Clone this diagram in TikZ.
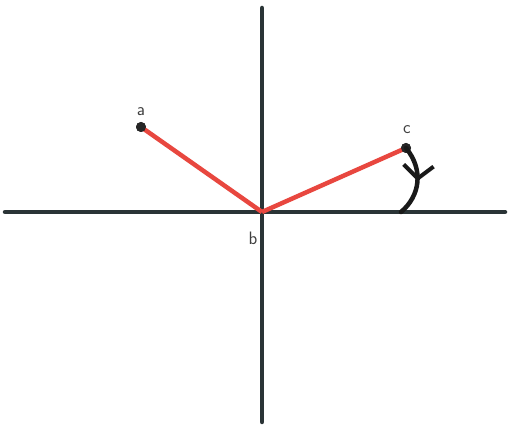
\documentclass[tikz,border=0pt]{standalone}
\usetikzlibrary{decorations.markings,arrows.meta}
\definecolor{axis}{HTML}{2A3436}
\definecolor{seg}{HTML}{E8473F}
\tikzset{
  axisline/.style={draw=axis,line width=4.5pt,line cap=round},
  segline/.style={draw=seg,line width=4.5pt},
  dot/.style={circle,fill=black!85,inner sep=0pt,minimum size=10pt},
  lbl/.style={font=\sffamily\fontsize{18}{20}\selectfont,text=black!75},
  turn/.style={draw=black!90,line width=4.5pt,line cap=round,
    postaction={decorate},
    decoration={markings,mark=at position 0.5 with {\arrow[line width=4pt]{Straight Barb[length=13pt,width=30pt]}}}}
}
\begin{document}
\begin{tikzpicture}[x=1pt,y=-1pt]
\useasboundingbox (0,0) rectangle (509,427);
\coordinate (top) at (262,8);
\coordinate (bot) at (262,422);
\coordinate (left) at (5,212);
\coordinate (right) at (505,212);
\coordinate (b) at (262,212);
\coordinate (end) at (401,212);
\path[axisline] (top) -- (bot);
\path[axisline] (left) -- (right);
\node[dot] (a) at (141,127) {};
\node[dot] (c) at (406,148) {};
\path[segline] (a.center) -- (b);
\path[segline] (b) -- (c.center);
\node[dot] at (a) {};
\node[dot] at (c) {};
\node[lbl] (la) at (141,112) {a};
\node[lbl] (lc) at (407,130) {c};
\node[lbl] (lb) at (253,238) {b};
\path[turn] (c.center) .. controls (424,170) and (420,196) .. (end);
\end{tikzpicture}
\end{document}
